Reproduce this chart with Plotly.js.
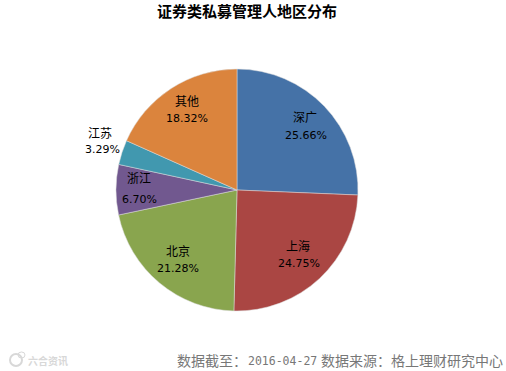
<!DOCTYPE html>
<html><head><meta charset="utf-8">
<script src="https://cdn.plot.ly/plotly-3.0.1.min.js"></script>
<style>html,body{margin:0;padding:0;background:#fff}</style></head>
<body><div id="c" style="width:506px;height:371px"></div>
<script>
const categories=["深广","上海","北京","浙江","江苏","其他"];
const shares=[25.66,24.75,21.28,6.70,3.29,18.32];
const colors=["#4572A7","#AA4643","#89A54E","#71588F","#4198AF","#DB843D"];
const labelPx=[[305,116],[298,245],[178,250],[139,178],[100,132],[187,101]];
const pctPx=[[306,135],[299,263],[178,268],[139,199],[102,149],[187,118]];
const cjk='"Noto Sans CJK SC","DejaVu Sans",sans-serif';
const mono='"DejaVu Sans Mono",monospace';
const W=506,H=371;
const ann=[];
function put(text,px,size,color,font,anchor){ann.push({text:text,x:px[0]/W,y:1-px[1]/H,xref:'paper',yref:'paper',xanchor:anchor||'center',yanchor:'middle',showarrow:false,xshift:0,borderpad:0,font:{family:font||cjk,size:size,color:color||'#000'}});}
categories.forEach((c,i)=>{put(c,labelPx[i],12);put(shares[i].toFixed(2)+'%',pctPx[i],11,'#000','"DejaVu Sans",sans-serif');});
put('数据截至：',[176,360],14,'#777',cjk,'left');
put('2016-04-27',[247,361],11.5,'#777',mono,'left');
put('数据来源：格上理财研究中心',[320,360],14,'#777',cjk,'left');
put('<b>六合资讯</b>',[48,360],10,'#d8d8d8');
Plotly.newPlot('c',[{type:'pie',labels:categories,values:shares,sort:false,direction:'clockwise',rotation:0,
 marker:{colors:colors,line:{color:'#ddd',width:0.5}},textinfo:'none',hoverinfo:'label+percent',
 domain:{x:[116/W,358/W],y:[(H-311)/H,(H-69)/H]},showlegend:false}],
{width:W,height:H,margin:{l:0,r:0,t:0,b:0},paper_bgcolor:'#fff',showlegend:false,
 title:{text:'<b>证券类私募管理人地区分布</b>',font:{family:cjk,size:15,color:'#000'},x:247/W,xanchor:'center',y:1-12/H,yanchor:'middle'},
 annotations:ann,
 shapes:[{type:'circle',xref:'paper',yref:'paper',x0:10/W,x1:22/W,y0:1-366/H,y1:1-354/H,line:{color:'#d8d8d8',width:2}},
 {type:'circle',xref:'paper',yref:'paper',x0:18/W,x1:25/W,y0:1-358/H,y1:1-352/H,line:{color:'#d8d8d8',width:1}}]},{displayModeBar:false});
</script></body></html>
